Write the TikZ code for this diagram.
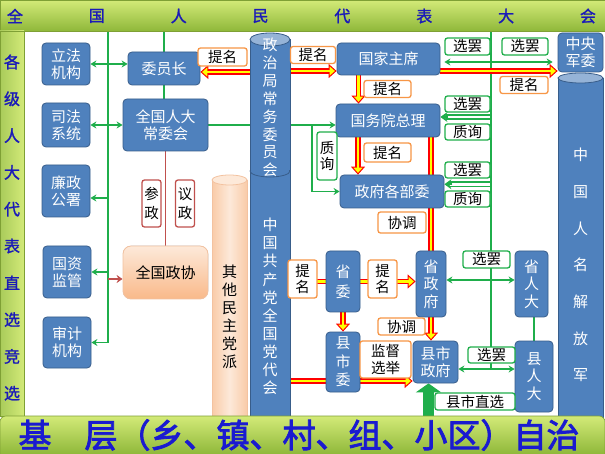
\documentclass[tikz,border=0pt]{standalone}
\usepackage{fontspec}
\setmainfont{Noto Sans CJK SC}
\newfontfamily\cjkb[FakeBold=1.5]{Noto Sans CJK SC}
\newfontfamily\cjkbb[FakeBold=2.5]{Noto Sans CJK SC}
\usetikzlibrary{arrows.meta}
\definecolor{bfill}{HTML}{4F81BD}
\definecolor{bdr}{HTML}{385D8A}
\definecolor{btop}{HTML}{95B3D7}
\definecolor{gcol}{HTML}{1FAE4B}
\definecolor{orng}{HTML}{F79646}
\definecolor{rcol}{HTML}{C0504D}
\definecolor{ryred}{HTML}{FF0000}
\definecolor{ryyel}{HTML}{FFFF00}
\definecolor{peachA}{HTML}{FDE9D9}
\definecolor{peachB}{HTML}{F9B98A}
\definecolor{peachC}{HTML}{F9CBA8}
\definecolor{pbdr}{HTML}{F3C2A0}
\definecolor{barA}{HTML}{D3EA78}
\definecolor{barB}{HTML}{8FB83A}
\definecolor{barC}{HTML}{A9CB5A}
\definecolor{barD}{HTML}{7FA035}
\definecolor{bartxt}{HTML}{1A1AB8}
\definecolor{bottxt}{HTML}{1A1AD0}
\pgfdeclarelayer{bg}
\pgfdeclarelayer{front}
\pgfsetlayers{bg,main,front}
\newcommand\RYa[2]{\draw[ryred,line width=5.5pt,-{Triangle[length=8pt,width=14pt,fill=ryyel,line width=1pt]}] #1 -- #2;\draw[ryyel,line width=2.5pt,shorten >=7pt] #1 -- #2;}
\newcommand\RYl[2]{\draw[ryred,line width=5.5pt] #1 -- #2;\draw[ryyel,line width=2.5pt] #1 -- #2;}
\tikzset{
 bbox/.style={draw=bdr, fill=bfill, rounded corners=4pt, text=white, align=center, inner sep=0pt, line width=0.8pt, font=\fontsize{15}{17}\selectfont},
 pbox/.style={bbox, draw=pbdr, top color=peachA, bottom color=peachB, text=black, rounded corners=8pt},
 lab/.style={fill=white, rounded corners=2.5pt, align=center, inner sep=0pt, line width=1.3pt, font=\fontsize{14.5}{16.5}\selectfont},
 olab/.style={lab, draw=orng},
 glab/.style={lab, draw=gcol},
 rlab/.style={lab, draw=rcol, font=\fontsize{14.5}{18.5}\selectfont},
 ctext/.style={text=white, align=center, inner sep=0pt},
 bartext/.style={text=bartxt, font=\cjkb\fontsize{16}{16}\selectfont, inner sep=0pt},
 gline/.style={draw=gcol, line width=1.6pt},
 garrow/.style={gline, -{Stealth[length=6pt,width=7pt]}},
 gdarrow/.style={gline, {Stealth[length=6pt,width=7pt]}-{Stealth[length=6pt,width=7pt]}},
 gwide/.style={gline, -{Stealth[length=7pt,width=10pt]}},
 rline/.style={draw=rcol, line width=1.4pt},
 rarrow/.style={draw=rcol, line width=1.6pt, -{Stealth[length=6pt,width=8pt]}},
}
\begin{document}
\begin{tikzpicture}[x=1pt,y=-1pt]
\useasboundingbox (0,0) rectangle (605,454);

% ---------- cylinders ----------
\shade[left color=peachC, right color=peachC, middle color=peachA] (212,180) rectangle (247,420);
\draw[pbdr, line width=0.8pt] (212,180) -- (212,420) (247,180) -- (247,420);
\draw[pbdr, line width=0.8pt, fill=peachA] (229.5,180) ellipse [x radius=17.5pt, y radius=5pt];
\node[ctext, text=black, font=\fontsize{15}{18.1}\selectfont] (qita) at (229.5,317) {其\\他\\民\\主\\党\\派};
\fill[bfill] (250,171) rectangle (290,420);
\draw[bdr, line width=0.8pt] (250,171) -- (250,420) (290,171) -- (290,420);
\fill[bfill] (250,39.5) rectangle (290,171);
\fill[bfill] (270,171) ellipse [x radius=20pt, y radius=6pt];
\begin{scope}
\clip (247,171) rectangle (293,180);
\draw[bdr, line width=0.8pt] (270,171) ellipse [x radius=20pt, y radius=6pt];
\end{scope}
\draw[bdr, line width=0.8pt] (250,39.5) -- (250,171) (290,39.5) -- (290,171);
\draw[bdr, line width=0.8pt, fill=btop] (270,39.5) ellipse [x radius=20pt, y radius=6.5pt];
\node[ctext, font=\fontsize{15}{17.9}\selectfont, minimum width=40pt] (polit) at (270,107.5) {政\\治\\局\\常\\务\\委\\员\\会};
\node[ctext, font=\fontsize{15}{18.1}\selectfont, minimum width=40pt] (ccp) at (270,306.5) {中\\国\\共\\产\\党\\全\\国\\党\\代\\会};
\fill[bfill] (558,78) rectangle (603,420);
\draw[bdr, line width=0.8pt] (558,78) -- (558,420) (603,78) -- (603,420);
\draw[bdr, line width=0.8pt, fill=btop] (580.5,78) ellipse [x radius=22.5pt, y radius=5pt];
\node[ctext, font=\fontsize{15}{36.7}\selectfont, minimum width=45pt] (jfj) at (580.5,265) {中\\国\\人\\名\\解\\放\\军};

% ---------- blue boxes ----------
\node[bbox,minimum width=48pt,minimum height=42pt] (lifa) at (66,64) {立法\\机构};
\node[bbox,minimum width=48pt,minimum height=44pt] (sifa) at (66,125) {司法\\系统};
\node[bbox,minimum width=48pt,minimum height=52pt] (lian) at (66,191) {廉政\\公署};
\node[bbox,minimum width=48pt,minimum height=52pt] (guozi) at (67,272) {国资\\监管};
\node[bbox,minimum width=48pt,minimum height=51pt] (shenji) at (67,342.5) {审计\\机构};
\node[bbox,minimum width=72pt,minimum height=33pt] (wyz) at (164,68.5) {委员长};
\node[bbox,minimum width=85pt,minimum height=52pt] (qgrd) at (165.5,125) {全国人大\\常委会};
\node[pbox,minimum width=85pt,minimum height=53pt] (zx) at (165.5,272.5) {全国政协};
\node[rlab,minimum width=19pt,minimum height=47pt] (canz) at (151.5,203.5) {参\\政};
\node[rlab,minimum width=19pt,minimum height=47pt] (yiz) at (185,203.5) {议\\政};
\node[bbox,minimum width=45pt,minimum height=39pt] (jw) at (580.5,52.5) {中央\\军委};
\node[bbox,minimum width=103pt,minimum height=32pt] (zhuxi) at (388.5,59) {国家主席};
\node[bbox,minimum width=104pt,minimum height=33pt] (zongli) at (388,120.5) {国务院总理};
\node[bbox,minimum width=104pt,minimum height=33pt] (buwei) at (392,191.5) {政府各部委};
\node[bbox,minimum width=34pt,minimum height=61pt,font=\fontsize{15}{20}\selectfont] (shengwei) at (343,281.5) {省\\委};
\node[bbox,minimum width=30pt,minimum height=66pt,font=\fontsize{15}{17.5}\selectfont] (shengzf) at (431,284) {省\\政\\府};
\node[bbox,minimum width=34pt,minimum height=60pt,font=\fontsize{15}{18.5}\selectfont] (xianw) at (343,362) {县\\市\\委};
\node[bbox,minimum width=45pt,minimum height=42pt] (xianzf) at (435.5,362) {县市\\政府};
\node[bbox,minimum width=33pt,minimum height=66pt,font=\fontsize{15}{17.5}\selectfont] (shengrd) at (531.5,284) {省\\人\\大};
\node[bbox,minimum width=38pt,minimum height=71pt,font=\fontsize{15}{17.5}\selectfont] (xianrd) at (534,376.5) {县\\人\\大};

% ---------- labels ----------
\node[olab,minimum width=49pt,minimum height=18pt] (tm1) at (222.5,57) {提名};
\node[olab,minimum width=45pt,minimum height=17pt] (tm2) at (313,55) {提名};
\node[olab,minimum width=47pt,minimum height=17pt] (tm3) at (387.5,89) {提名};
\node[olab,minimum width=47pt,minimum height=19pt] (tm4) at (387.5,152.5) {提名};
\node[olab,minimum width=48pt,minimum height=17pt] (tm5) at (524,85) {提名};
\node[glab,minimum width=20pt,minimum height=48pt] (zx1) at (327,156) {质\\询};
\node[glab,minimum width=45pt,minimum height=17pt] (xb1) at (467.5,46.5) {选罢};
\node[glab,minimum width=46pt,minimum height=17pt] (xb2) at (525,46.5) {选罢};
\node[glab,minimum width=45pt,minimum height=16pt] (xb3) at (467.5,104) {选罢};
\node[glab,minimum width=45pt,minimum height=16pt] (zx2) at (467.5,132) {质询};
\node[glab,minimum width=45pt,minimum height=16pt] (xb4) at (467.5,170) {选罢};
\node[glab,minimum width=45pt,minimum height=16pt] (zx3) at (467.5,199) {质询};
\node[olab,minimum width=48pt,minimum height=21pt] (xt1) at (402,222.5) {协调};
\node[olab,minimum width=29pt,minimum height=38pt] (tm6) at (302.5,279) {提\\名};
\node[olab,minimum width=29pt,minimum height=38pt] (tm7) at (382.5,279) {提\\名};
\node[glab,minimum width=47pt,minimum height=17pt] (xb5) at (486.5,259.5) {选罢};
\node[olab,minimum width=47pt,minimum height=17pt] (xt2) at (401.5,326.5) {协调};
\node[olab,minimum width=51pt,minimum height=37pt] (jd) at (385.5,359.5) {监督\\选举};
\node[glab,minimum width=47pt,minimum height=16pt] (xb6) at (491.5,355) {选罢};
\node[glab,minimum width=80pt,minimum height=17pt] (zhixuan) at (475,401.5) {县市直选};

% ---------- connectors ----------
\begin{pgfonlayer}{bg}
\fill[white] (0,0) rectangle (605,454);
\coordinate (vl) at (108,31);
\coordinate (tb) at (0,31);
\coordinate (gt) at (491,31);
\coordinate (gb) at (491,369);
\coordinate (br) at (312,0);
\coordinate (bb) at (0,420);
\draw[gline] (vl) -- (shenji.east -| vl);
\draw[gdarrow] (lifa.east) -- (lifa.east -| wyz.west);
\draw[gdarrow] (sifa.east) -- (sifa.east -| qgrd.west);
\draw[garrow] ([yshift=-7pt]lian.east -| vl) -- ([yshift=-7pt]lian.east);
\draw[garrow] (guozi.east -| vl) -- (guozi.east);
\draw[garrow] (shenji.east -| vl) -- (shenji.east);
\draw[rarrow] ([yshift=-6.5pt]zx.west -| vl) -- ([yshift=-6.5pt]zx.west);
\draw[gline] (wyz.north |- tb) -- (wyz.north);
\draw[gline] (wyz.south) -- (wyz.south |- qgrd.north);
\draw[rline] (qgrd.south) -- (zx.north);
\draw[garrow] (qgrd.east) -- (qgrd.east -| zongli.west);
\draw[garrow] (qgrd.east -| br) |- (buwei.west);
\draw[gline] (gt) -- (gb);
\draw[gdarrow] ([xshift=4pt,yshift=-3pt]zhuxi.east) -- ([xshift=4pt,yshift=-3pt]zhuxi.east -| xb2.east);
\draw[gline] ([yshift=5.5pt]zongli.east -| gt) -- ([xshift=6pt,yshift=5.5pt]zongli.east);
\draw[gline] ([yshift=1.5pt]zongli.east -| gt) -- ([xshift=6pt,yshift=1.5pt]zongli.east);
\draw[gwide] ([xshift=8pt,yshift=3.5pt]zongli.east) -- ([yshift=3.5pt]zongli.east);
\draw[gline] ([yshift=9.5pt]buwei.east -| gt) -- ([xshift=6pt,yshift=9.5pt]buwei.east);
\draw[gline] ([yshift=5pt]buwei.east -| gt) -- ([xshift=6pt,yshift=5pt]buwei.east);
\draw[gwide] ([xshift=8pt,yshift=7.25pt]buwei.east) -- ([yshift=7.25pt]buwei.east);
\draw[gdarrow] ([yshift=4pt]shengzf.east) -- ([yshift=4pt]shengzf.east -| shengrd.west);
\draw[gdarrow] ([yshift=-7pt]xianzf.east) -- ([yshift=-7pt]xianzf.east -| xianrd.west);
\draw[gline] (xianrd.north |- shengrd.south) -- (xianrd.north);
\draw[gcol, line width=11pt, -{Triangle[length=9pt,width=25pt]}] ([xshift=-7pt]xianzf.south |- bb) -- ([xshift=-7pt]xianzf.south);
\RYa{([yshift=-3.5pt]wyz.east -| polit.west)}{([yshift=-3.5pt]wyz.east)}
\RYa{([yshift=-12pt]zhuxi.west -| polit.east)}{([yshift=-12pt]zhuxi.west)}
\RYa{([yshift=-12pt]zhuxi.east)}{([yshift=-12pt]zhuxi.east -| jw.west)}
\RYa{([xshift=-30pt]zhuxi.south)}{([xshift=-30pt]zhuxi.south |- zongli.north)}
\RYa{([xshift=-30pt]zongli.south)}{([xshift=-30pt]zongli.south |- buwei.north)}
\RYl{(shengzf.north |- zongli.south)}{(shengzf.north)}
\RYa{(shengzf.south)}{(shengzf.south |- xianzf.north)}
\RYa{(shengwei.east)}{(shengwei.east -| shengzf.west)}
\RYl{(shengwei.west -| ccp.east)}{(shengwei.west)}
\RYa{(shengwei.south)}{(xianw.north)}
\RYa{([yshift=-19pt]xianzf.west -| ccp.east)}{([yshift=-19pt]xianzf.west)}
\end{pgfonlayer}

% ---------- frame bars ----------
\begin{pgfonlayer}{front}
\shade[top color=barA, bottom color=barB, draw=barD, line width=0.6pt] (0,0) rectangle (605,31);
\shade[left color=barC, right color=barA, draw=barD, line width=0.6pt] (0,31) rectangle (24,416);
\shade[top color=barA, bottom color=barB, draw=barD, line width=0.6pt, rounded corners=6pt] (0,454) -- (0,416) -- (605,416) -- (605,454);
\foreach \c [count=\i] in {全,国,人,民,代,表,大,会} {\node[bartext] (t\i) at ({15+81.85*(\i-1)},16) {\c};}
\foreach \c [count=\i] in {各,级,人,大,代,表,直,选,竞,选} {\node[bartext] (l\i) at (12,{62+36.8*(\i-1)}) {\c};}
\node[text=bottxt, font=\cjkbb\fontsize{33}{33}\selectfont, inner sep=0pt] (jiceng) at (299,435) {基　层（乡、镇、村、组、小区）自治};
\end{pgfonlayer}
\end{tikzpicture}
\end{document}
